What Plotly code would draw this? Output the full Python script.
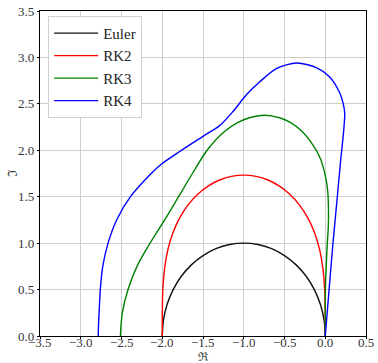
import plotly.graph_objects as go

# ---- data (upper half of stability boundaries) ----
euler_x = [-2.0, -1.985, -1.94, -1.866, -1.766, -1.643, -1.5, -1.342, -1.174, -1.0,
           -0.826, -0.658, -0.5, -0.357, -0.234, -0.134, -0.06, -0.015, 0.0]
euler_y = [0.0, 0.174, 0.342, 0.5, 0.643, 0.766, 0.866, 0.94, 0.985, 1.0,
           0.985, 0.94, 0.866, 0.766, 0.643, 0.5, 0.342, 0.174, 0.0]

rk2_x = [-2.0, -2.0, -1.993, -1.971, -1.931, -1.869, -1.786, -1.685, -1.568, -1.438,
         -1.298, -1.151, -1.0, -0.849, -0.702, -0.562, -0.432, -0.315, -0.214, -0.131,
         -0.069, -0.029, -0.007, 0.0, 0.0]
rk2_y = [0.0, 0.174, 0.504, 0.728, 0.931, 1.112, 1.272, 1.41, 1.524, 1.614,
         1.68, 1.719, 1.732, 1.719, 1.68, 1.614, 1.524, 1.41, 1.272, 1.112,
         0.931, 0.728, 0.504, 0.174, 0.0]

rk3_x = [-2.513, -2.505, -2.49, -2.42, -2.31, -2.15, -1.97, -1.80, -1.63, -1.45,
         -1.24, -1.07, -0.93, -0.75, -0.56, -0.43, -0.28, -0.11, -0.055, -0.02,
         0.0, 0.025, 0.035, 0.04, 0.036, 0.025, 0.012, 0.002, 0.0]
rk3_y = [0.0, 0.12, 0.25, 0.5, 0.75, 1.0, 1.25, 1.5, 1.75, 2.0,
         2.2, 2.3, 2.35, 2.377, 2.35, 2.3, 2.2, 2.0, 1.9, 1.8,
         1.732, 1.6, 1.5, 1.3, 1.15, 1.0, 0.75, 0.5, 0.0]

rk4_x = [-2.785, -2.782, -2.775, -2.76, -2.73, -2.665, -2.56, -2.39, -2.13, -2.02,
         -1.78, -1.50, -1.29, -1.13, -0.965, -0.80, -0.60, -0.35, -0.11, 0.055,
         0.177, 0.218, 0.239, 0.225, 0.19, 0.145, 0.095, 0.047, 0.0]
rk4_y = [0.0, 0.12, 0.25, 0.5, 0.75, 1.0, 1.25, 1.5, 1.755, 1.845,
         1.99, 2.15, 2.27, 2.42, 2.6, 2.74, 2.88, 2.94, 2.89, 2.79,
         2.62, 2.51, 2.40, 2.2, 1.9, 1.47, 1.0, 0.5, 0.0]

series_names = ["Euler", "RK2", "RK3", "RK4"]
series_colors = ["#111111", "#ff0000", "#008000", "#0000ff"]
x_ticks = [-3.5, -3.0, -2.5, -2.0, -1.5, -1.0, -0.5, 0.0, 0.5]
y_ticks = [0.0, 0.5, 1.0, 1.5, 2.0, 2.5, 3.0, 3.5]

serif = "Liberation Serif, DejaVu Serif, serif"
tick_font = dict(family=serif, size=13, color="#333")

fig = go.Figure()
for name, color, xs, ys in zip(series_names, series_colors,
                               [euler_x, rk2_x, rk3_x, rk4_x],
                               [euler_y, rk2_y, rk3_y, rk4_y]):
    fig.add_trace(go.Scatter(x=xs, y=ys, mode="lines", name=name,
                             line=dict(color=color, width=1.4, shape="spline",
                                       smoothing=0.8)))

axis_common = dict(showline=True, linecolor="black", linewidth=1.2, mirror=True,
                   showgrid=True, gridcolor="#cfcfcf", gridwidth=1.3,
                   zeroline=False, ticks="outside", ticklen=2, tickcolor="black",
                   tickformat=".1f", tickfont=tick_font)

fig.update_xaxes(range=[-3.5, 0.5], tickvals=x_ticks, showticklabels=False, **axis_common)
fig.update_yaxes(range=[0, 3.5], tickvals=y_ticks, **axis_common)

annotations = []
for v in x_ticks:
    label = f"{v:.1f}".replace("-", "\u2212")
    annotations.append(dict(text=label, xref="x", yref="paper", x=v, y=-0.021,
                            xanchor="center", yanchor="middle", showarrow=False,
                            height=11, font=tick_font))
annotations.append(dict(text="ℜ", xref="paper", yref="paper", x=0.5, y=-0.0645,
                        xanchor="center", yanchor="middle", showarrow=False,
                        height=10,
                        font=dict(family="DejaVu Serif, serif", size=12, color="#333")))
annotations.append(dict(text="ℑ", xref="paper", yref="paper", x=-0.083, y=0.502,
                        xanchor="center", yanchor="middle", showarrow=False, textangle=-90,
                        font=dict(family="DejaVu Serif, serif", size=13, color="#333")))

fig.update_layout(
    width=378, height=363,
    margin=dict(l=40, r=12, t=11, b=27, autoexpand=False),
    plot_bgcolor="white", paper_bgcolor="white",
    showlegend=True,
    legend=dict(x=0.025, y=0.985, xanchor="left", yanchor="top",
                bgcolor="white", bordercolor="#d0d0d0", borderwidth=1,
                itemwidth=44,
                font=dict(family=serif, size=15, color="#222"),
                tracegroupgap=0),
    annotations=annotations,
)

fig.write_html("out.html", config={"displayModeBar": False},
               post_script="document.body.style.margin='0';")
